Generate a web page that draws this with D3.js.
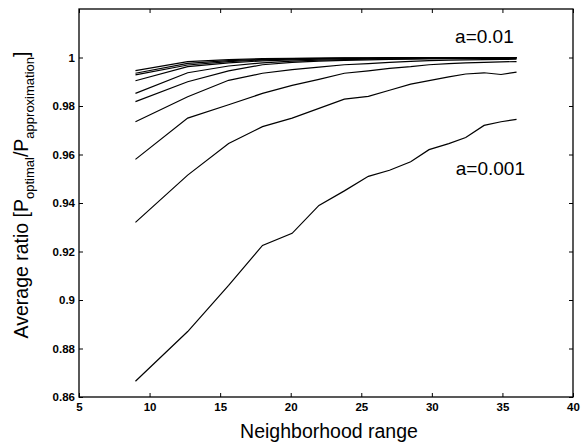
<html>
<head>
<style>
  body { margin: 0; background: #fff; }
  text { font-family: Arial, "Liberation Sans", sans-serif; fill: #000; }
</style>
</head>

<body>
  <svg id="svg" width="584" height="443"></svg>

  <script src="https://d3js.org/d3.v7.min.js"></script>
  <script type="text/javascript">
  // neighborhood range (x positions of the points)
  let range = [9, 12.7, 15.6, 18, 20.1, 22, 23.8, 25.5, 27, 28.5, 29.8, 31.2, 32.4, 33.7, 34.9, 36];

  // one curve per a value, a=0.001 (lowest) ... a=0.01 (highest)
  let a001 = [0.8665, 0.887, 0.906, 0.9225, 0.9275, 0.939, 0.945, 0.951, 0.9535, 0.957, 0.962, 0.9645, 0.967, 0.972, 0.9735, 0.9745];
  let a002 = [0.932, 0.9515, 0.9645, 0.9715, 0.975, 0.979, 0.9828, 0.984, 0.9865, 0.989, 0.9905, 0.992, 0.9932, 0.9937, 0.993, 0.994];
  let a003 = [0.958, 0.975, 0.9805, 0.9852, 0.9885, 0.991, 0.9935, 0.9945, 0.9955, 0.9962, 0.997, 0.9975, 0.9978, 0.998, 0.9982, 0.9983];
  let a004 = [0.9735, 0.9838, 0.9906, 0.9935, 0.995, 0.996, 0.997, 0.9975, 0.998, 0.9984, 0.9987, 0.9989, 0.999, 0.9991, 0.9992, 0.9993];
  let a005 = [0.9818, 0.99, 0.9945, 0.997, 0.998, 0.9985, 0.9988, 0.999, 0.9992, 0.9993, 0.9994, 0.9995, 0.9995, 0.9996, 0.9996, 0.9996];
  let a006 = [0.9852, 0.9937, 0.9965, 0.9978, 0.9985, 0.9989, 0.9991, 0.9993, 0.9994, 0.9995, 0.9996, 0.9996, 0.9997, 0.9997, 0.9998, 0.9998];
  let a007 = [0.9904, 0.9962, 0.9978, 0.9986, 0.999, 0.9993, 0.9995, 0.9996, 0.9997, 0.9997, 0.9998, 0.9998, 0.9998, 0.9999, 0.9999, 0.9999];
  let a008 = [0.9928, 0.9969, 0.9983, 0.999, 0.9993, 0.9995, 0.9996, 0.9997, 0.9998, 0.9998, 0.9999, 0.9999, 0.9999, 0.9999, 1.0, 1.0];
  let a009 = [0.9935, 0.9976, 0.9987, 0.9992, 0.9995, 0.9997, 0.9998, 0.9998, 0.9999, 0.9999, 0.9999, 1.0, 1.0, 1.0, 1.0, 1.0];
  let a010 = [0.9946, 0.9983, 0.9991, 0.9995, 0.9997, 0.9998, 0.9999, 0.9999, 1.0, 1.0, 1.0, 1.0, 1.0, 1.0, 1.0, 1.0];
  let curves = [a001, a002, a003, a004, a005, a006, a007, a008, a009, a010];

  let xTicks = [5, 10, 15, 20, 25, 30, 35, 40];
  let yTicks = [0.86, 0.88, 0.9, 0.92, 0.94, 0.96, 0.98, 1];

  let box = {l: 79, r: 573, t: 9, b: 397};
  let x = d3.scaleLinear().domain([5, 40]).range([box.l, box.r]);
  let y = d3.scaleLinear().domain([0.86, 1.02]).range([box.b, box.t]);

  let svg = d3.select("#svg");

  // frame
  svg.append("rect")
    .attr("x", box.l).attr("y", box.t)
    .attr("width", box.r - box.l).attr("height", box.b - box.t)
    .style("fill", "none").style("stroke", "#000").style("stroke-width", 1.3);

  // axes, ticks pointing inward like matlab
  let fmt = d => d3.format("")(d);
  let ax = svg.append("g").attr("transform", "translate(0," + box.b + ")")
    .call(d3.axisBottom(x).tickValues(xTicks).tickSize(-4).tickPadding(6).tickFormat(fmt));
  let axt = svg.append("g").attr("transform", "translate(0," + box.t + ")")
    .call(d3.axisTop(x).tickValues(xTicks).tickSize(-4).tickFormat(""));
  let ay = svg.append("g").attr("transform", "translate(" + box.l + ",0)")
    .call(d3.axisLeft(y).tickValues(yTicks).tickSize(-4).tickPadding(4).tickFormat(fmt));
  let ayr = svg.append("g").attr("transform", "translate(" + box.r + ",0)")
    .call(d3.axisRight(y).tickValues(yTicks).tickSize(-4).tickFormat(""));
  [ax, axt, ay, ayr].forEach(function(g) {
    g.select(".domain").remove();
    g.selectAll("line").style("stroke", "#000");
    g.selectAll("text").style("font-size", "11.5px").style("font-weight", "bold")
      .style("font-family", "Arial, 'Liberation Sans', sans-serif");
  });

  // curves
  let line = d3.line()
    .x((d, i) => x(range[i]))
    .y(d => y(d));
  svg.append("g").selectAll("path").data(curves).enter().append("path")
    .attr("d", line)
    .style("fill", "none")
    .style("stroke", "#000")
    .style("stroke-width", 1.2);

  // annotations
  svg.append("text").attr("x", x(35.8)).attr("y", 43)
    .attr("text-anchor", "end").style("font-size", "19px").text("a=0.01");
  svg.append("text").attr("x", x(36.6)).attr("y", 175)
    .attr("text-anchor", "end").style("font-size", "19px").text("a=0.001");

  // axis labels
  svg.append("text").attr("x", 329).attr("y", 438)
    .attr("text-anchor", "middle").style("font-size", "19.5px").text("Neighborhood range");

  let yl = svg.append("text")
    .attr("transform", "translate(28,195) rotate(-90)")
    .attr("text-anchor", "middle").style("font-size", "19.5px");
  yl.append("tspan").text("Average ratio [P");
  yl.append("tspan").attr("dy", 6).style("font-size", "13px").text("optimal");
  yl.append("tspan").attr("dy", -6).text("/P");
  yl.append("tspan").attr("dy", 6).style("font-size", "13px").text("approximation");
  yl.append("tspan").attr("dy", -6).text("]");
  </script>
</body>
</html>
